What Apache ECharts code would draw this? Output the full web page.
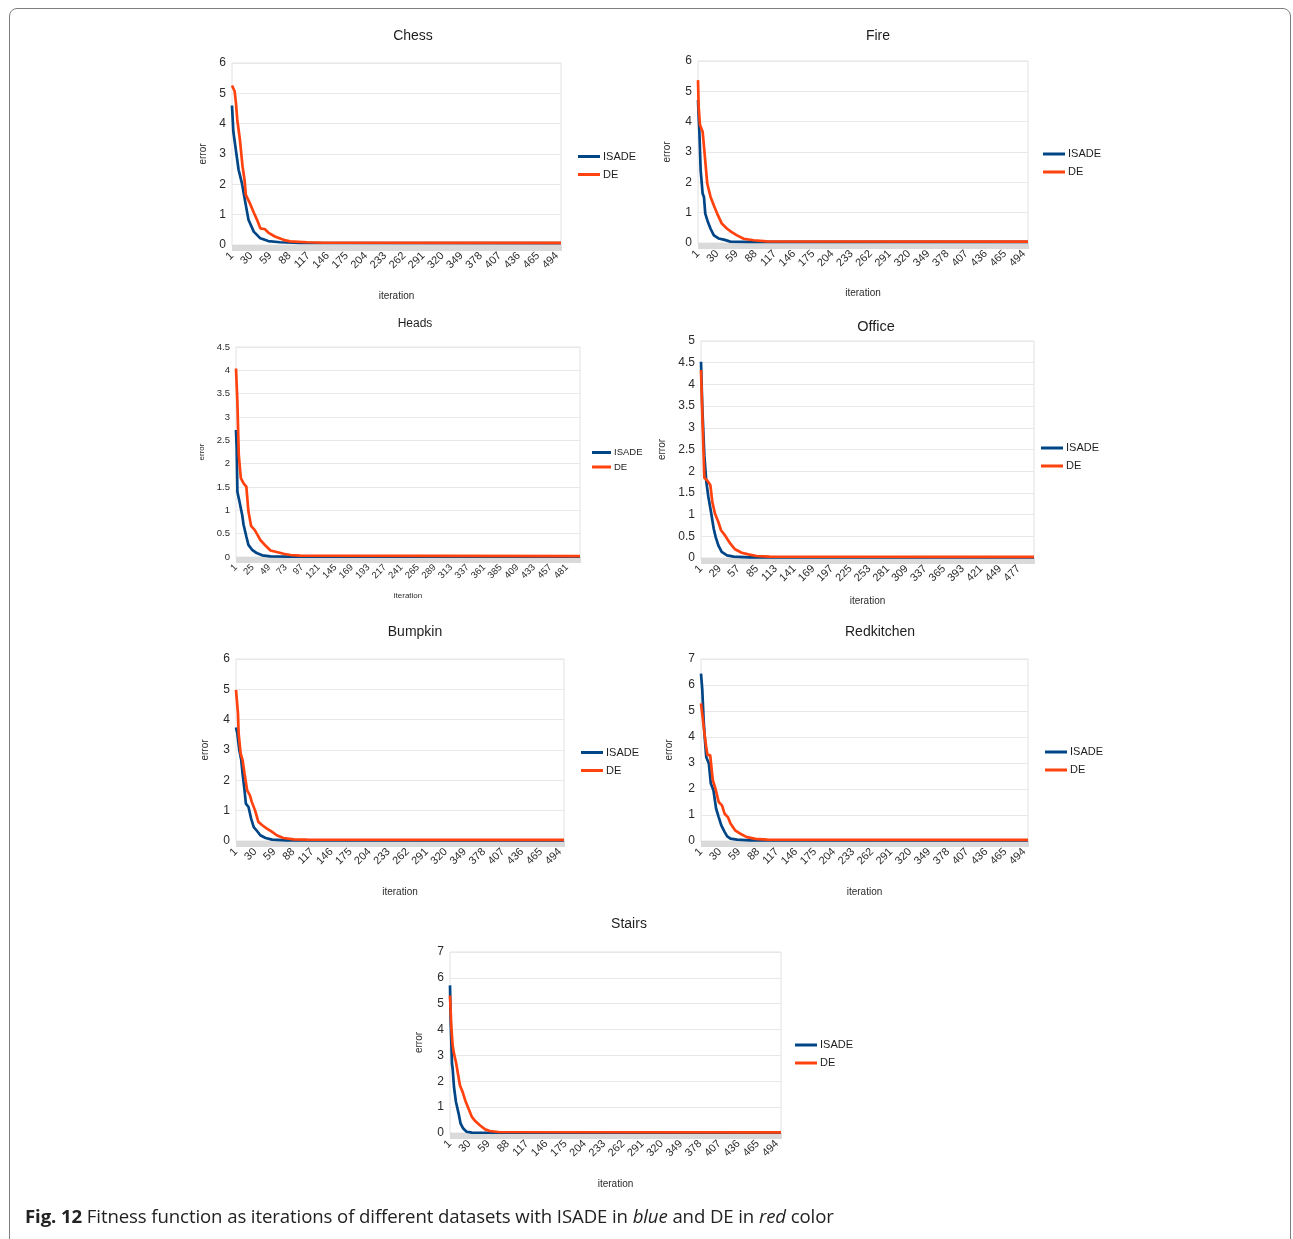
<!DOCTYPE html>
<html>
<head>
<meta charset="utf-8">
<title>Fig. 12</title>
<script src="https://cdn.jsdelivr.net/npm/echarts@6/dist/echarts.min.js"></script>
<style>
  html, body { margin: 0; padding: 0; background: #fff; overflow: hidden; }
  #frame {
    position: absolute; left: 9px; top: 8px; width: 1282px; height: 1300px;
    border: 1.5px solid #7d7d7d; border-radius: 8px; box-sizing: border-box;
  }
  #main { position: absolute; left: 0; top: 0; width: 1293px; height: 1239px; }
  #caption {
    position: absolute; left: 25px; top: 1203px; white-space: nowrap;
    font-family: 'Open Sans', sans-serif; font-size: 18.6px; color: #222;
    letter-spacing: -0.1px;
  }
  #caption b { font-weight: 700; }
</style>
</head>
<body>
<div id="frame"></div>
<div id="main"></div>
<div id="caption"><b>Fig. 12</b> Fitness function as iterations of different datasets with ISADE in <i>blue</i> and DE in <i>red</i> color</div>
<script>
  // iterations 1..500 on the x axis
  var iterations = []
  for (var i = 1; i <= 500; i++) iterations.push(String(i))

  var seriesNames = ['ISADE', 'DE']

  // [iteration, error]
  var chessIsade = [[1, 4.6], [3, 3.74], [11, 2.48], [16, 2.04], [21, 1.43], [26, 0.83], [34, 0.44], [44, 0.22], [56, 0.13], [74, 0.09], [104, 0.066], [500, 0.06]]
  var chessDe = [[1, 5.26], [5, 5.07], [7, 4.68], [9, 4.13], [13, 3.47], [17, 2.59], [20, 2.15], [22, 1.65], [28, 1.38], [34, 1.07], [39, 0.83], [44, 0.55], [51, 0.52], [56, 0.41], [66, 0.28], [79, 0.17], [89, 0.12], [115, 0.09], [140, 0.075], [500, 0.07]]

  var fireIsade = [[1, 4.71], [2, 4.16], [3, 3.72], [5, 2.4], [6, 2.35], [8, 1.63], [10, 1.52], [12, 0.97], [16, 0.69], [20, 0.47], [25, 0.25], [32, 0.15], [40, 0.11], [50, 0.045], [80, 0.035], [500, 0.035]]
  var fireDe = [[1, 5.37], [2, 4.49], [4, 3.89], [6, 3.78], [8, 3.67], [11, 2.95], [15, 1.96], [20, 1.52], [25, 1.24], [30, 0.97], [37, 0.64], [45, 0.47], [52, 0.36], [60, 0.25], [70, 0.14], [85, 0.09], [105, 0.055], [500, 0.045]]

  var headsIsade = [[1, 2.72], [2, 2.33], [3, 1.4], [6, 1.19], [10, 0.9], [12, 0.69], [16, 0.44], [19, 0.26], [24, 0.16], [31, 0.085], [39, 0.036], [51, 0.014], [80, 0.01], [500, 0.01]]
  var headsDe = [[1, 4.04], [3, 3.33], [5, 2.19], [8, 1.69], [12, 1.58], [16, 1.51], [19, 0.98], [23, 0.66], [28, 0.58], [32, 0.48], [36, 0.37], [44, 0.24], [51, 0.14], [60, 0.107], [70, 0.07], [80, 0.043], [94, 0.028], [500, 0.02]]

  var officeIsade = [[1, 4.52], [3, 3.45], [6, 2.37], [9, 1.75], [12, 1.41], [16, 1.06], [20, 0.68], [23, 0.48], [27, 0.29], [32, 0.14], [40, 0.06], [50, 0.03], [75, 0.015], [500, 0.015]]
  var officeDe = [[1, 4.33], [3, 3.29], [6, 1.85], [10, 1.79], [15, 1.68], [18, 1.29], [22, 1.02], [27, 0.83], [31, 0.64], [37, 0.52], [45, 0.33], [52, 0.2], [62, 0.12], [72, 0.085], [84, 0.046], [104, 0.03], [500, 0.025]]

  var bumpkinIsade = [[1, 3.74], [3, 3.55], [6, 3.0], [9, 2.67], [11, 2.22], [14, 1.67], [16, 1.23], [20, 1.12], [24, 0.74], [28, 0.46], [33, 0.33], [38, 0.19], [46, 0.1], [56, 0.044], [78, 0.022], [500, 0.02]]
  var bumpkinDe = [[1, 4.98], [4, 4.21], [5, 3.55], [8, 2.89], [11, 2.67], [14, 2.22], [18, 1.67], [22, 1.51], [25, 1.29], [30, 1.01], [35, 0.63], [41, 0.52], [48, 0.41], [56, 0.3], [63, 0.19], [73, 0.1], [89, 0.055], [109, 0.044], [500, 0.04]]

  var redkitchenIsade = [[1, 6.44], [3, 5.8], [5, 4.65], [7, 3.88], [9, 3.23], [13, 2.98], [16, 2.21], [20, 1.95], [24, 1.25], [28, 0.92], [32, 0.6], [37, 0.35], [41, 0.18], [46, 0.09], [56, 0.05], [76, 0.026], [500, 0.025]]
  var redkitchenDe = [[1, 5.29], [4, 4.65], [6, 4.2], [9, 3.62], [11, 3.3], [15, 3.3], [19, 2.34], [23, 2.02], [25, 1.95], [28, 1.5], [33, 1.37], [37, 1.05], [42, 0.92], [46, 0.67], [53, 0.41], [61, 0.28], [71, 0.15], [84, 0.08], [102, 0.05], [500, 0.04]]

  var stairsIsade = [[1, 5.71], [2, 4.36], [4, 2.68], [5, 2.49], [7, 1.78], [10, 1.2], [14, 0.75], [17, 0.36], [21, 0.17], [26, 0.05], [34, 0.013], [500, 0.01]]
  var stairsDe = [[1, 5.32], [3, 4.1], [5, 3.39], [7, 3.07], [10, 2.74], [13, 2.29], [16, 1.84], [20, 1.59], [24, 1.26], [29, 0.94], [34, 0.62], [39, 0.46], [46, 0.3], [54, 0.14], [61, 0.077], [74, 0.039], [500, 0.025]]

  var colors = ['#004586', '#ff420e']

  // layout of each panel on the page; f = [title, y labels, x labels, legend, axis names]
  var panels = [
    { title: 'Chess', data: [chessIsade, chessDe], max: 6, step: 1, every: 29,
      grid: [232, 63, 329, 182], titleAt: [413, 36], legendAt: [578, 151], errGap: 24, itGap: 46, f: [14, 12, 11, 11, 10] },
    { title: 'Fire', data: [fireIsade, fireDe], max: 6, step: 1, every: 29,
      grid: [698, 61, 330, 182], titleAt: [878, 36], legendAt: [1043, 148.5], errGap: 26, itGap: 45.5, f: [14, 12, 11, 11, 10] },
    { title: 'Heads', data: [headsIsade, headsDe], max: 4.5, step: 0.5, every: 24,
      grid: [236, 347, 344, 210], titleAt: [415, 324], legendAt: [592, 447.5], errGap: 30, itGap: 34.5, f: [12, 9.5, 9.5, 9.5, 8] },
    { title: 'Office', data: [officeIsade, officeDe], max: 5, step: 0.5, every: 28,
      grid: [701, 341, 333, 217], titleAt: [876, 327], legendAt: [1041, 442.5], errGap: 34, itGap: 38.5, f: [14.5, 12, 11, 11, 10] },
    { title: 'Bumpkin', data: [bumpkinIsade, bumpkinDe], max: 6, step: 1, every: 29,
      grid: [236, 659, 328, 182], titleAt: [415, 632], legendAt: [581, 747], errGap: 26, itGap: 46, f: [14, 12, 11, 11, 10] },
    { title: 'Redkitchen', data: [redkitchenIsade, redkitchenDe], max: 7, step: 1, every: 29,
      grid: [701, 659, 327, 182], titleAt: [880, 632], legendAt: [1045, 746.5], errGap: 26.5, itGap: 46, f: [14, 12, 11, 11, 10] },
    { title: 'Stairs', data: [stairsIsade, stairsDe], max: 7, step: 1, every: 29,
      grid: [450, 952, 331, 181], titleAt: [629, 924], legendAt: [795, 1039.5], errGap: 26, itGap: 46.5, f: [14, 12, 11, 11, 10] }
  ]

  var font = 'Liberation Sans'
  var textColor = '#2b2b2b'

  var myChart = echarts.init(document.getElementById('main'))

  var option = {
    animation: false,
    backgroundColor: 'transparent',
    title: [], legend: [], grid: [], xAxis: [], yAxis: [], series: []
  }

  panels.forEach(function (p, k) {
    option.title.push({
      text: p.title,
      left: p.titleAt[0], top: p.titleAt[1],
      textAlign: 'center', textVerticalAlign: 'middle',
      padding: 0,
      textStyle: { fontFamily: font, fontSize: p.f[0], fontWeight: 'normal', color: '#1e1e1e' }
    })
    option.legend.push({
      data: seriesNames,
      orient: 'vertical',
      left: p.legendAt[0], top: p.legendAt[1],
      padding: 0,
      icon: 'rect',
      itemWidth: k === 2 ? 19 : 22,
      itemHeight: 3,
      itemGap: k === 2 ? 4.5 : 7,
      selectedMode: false,
      textStyle: { fontFamily: font, fontSize: p.f[3], color: '#1e1e1e', padding: [0, 0, 0, -2] }
    })
    option.grid.push({
      left: p.grid[0], top: p.grid[1], width: p.grid[2], height: p.grid[3],
      show: true, borderColor: '#e2e2e2', borderWidth: 1
    })
    option.xAxis.push({
      type: 'category',
      gridIndex: k,
      data: iterations,
      boundaryGap: false,
      name: 'iteration',
      nameLocation: 'middle',
      nameGap: p.itGap,
      nameTextStyle: { fontFamily: font, fontSize: p.f[4], color: textColor },
      axisLine: { show: true, lineStyle: { color: '#e2e2e2', width: 1 } },
      axisTick: { show: true, interval: 0, length: 6, lineStyle: { color: '#dadada', width: 1 } },
      axisLabel: {
        interval: p.every - 1, rotate: 45, margin: 9,
        fontFamily: font, fontSize: p.f[2], color: textColor
      },
      splitLine: { show: false }
    })
    option.yAxis.push({
      type: 'value',
      gridIndex: k,
      min: 0, max: p.max, interval: p.step,
      name: 'error',
      nameLocation: 'middle',
      nameRotate: 90,
      nameGap: p.errGap,
      nameTextStyle: { fontFamily: font, fontSize: p.f[4], color: textColor },
      axisLine: { show: false },
      axisTick: { show: false },
      axisLabel: { margin: 6, fontFamily: font, fontSize: p.f[1], color: textColor },
      splitLine: { lineStyle: { color: '#e8e8e8', width: 1 } }
    })
    p.data.forEach(function (pts, s) {
      option.series.push({
        name: seriesNames[s],
        type: 'line',
        xAxisIndex: k,
        yAxisIndex: k,
        symbol: 'none',
        color: colors[s],
        lineStyle: { color: colors[s], width: 2.7 },
        data: pts.map(function (d) { return [String(d[0]), d[1]] })
      })
    })
  })

  myChart.setOption(option)
  window.addEventListener('resize', function () {
    myChart.resize()
  })
</script>
</body>
</html>
